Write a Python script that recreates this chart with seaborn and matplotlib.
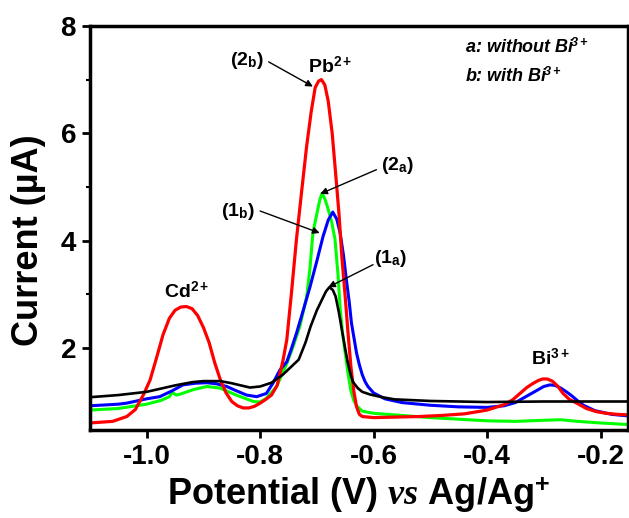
import pandas as pd
import matplotlib
matplotlib.use('Agg')
import matplotlib.pyplot as plt
import seaborn as sns

sns.set_theme(style='ticks')
plt.rcParams['font.family'] = ['Liberation Sans', 'DejaVu Sans']
plt.rcParams['font.weight'] = 'bold'
plt.rcParams['mathtext.fontset'] = 'custom'
plt.rcParams['mathtext.rm'] = 'Liberation Sans:bold'
plt.rcParams['mathtext.bf'] = 'Liberation Sans:bold'
plt.rcParams['mathtext.it'] = 'Liberation Serif:italic:bold'
for key in ['text.color', 'axes.labelcolor', 'xtick.color', 'ytick.color', 'axes.edgecolor']:
    plt.rcParams[key] = 'black'

# (2b) Pb + Cd with Bi3+  (red)
red_x = [-1.10, -1.06, -1.035, -1.02, -1.006, -0.994, -0.983, -0.971, -0.960, -0.950, -0.940,
         -0.930, -0.920, -0.910, -0.900, -0.890, -0.880, -0.870, -0.860, -0.850, -0.840,
         -0.830, -0.820, -0.810, -0.800, -0.790, -0.780, -0.770, -0.760, -0.753, -0.745,
         -0.736, -0.727, -0.718, -0.710, -0.703, -0.697, -0.692, -0.686, -0.680, -0.673,
         -0.667, -0.661, -0.656, -0.650, -0.645, -0.640, -0.635, -0.630, -0.625, -0.62,
         -0.60, -0.56, -0.52, -0.48, -0.44, -0.40, -0.37, -0.355, -0.342, -0.33, -0.32,
         -0.31, -0.302, -0.294, -0.285, -0.275, -0.266, -0.255, -0.242, -0.225, -0.207,
         -0.19, -0.17, -0.15]
red_y = [0.60, 0.63, 0.72, 0.85, 1.12, 1.40, 1.80, 2.25, 2.55, 2.70, 2.76,
         2.77, 2.73, 2.60, 2.38, 2.10, 1.72, 1.40, 1.16, 1.00, 0.92,
         0.88, 0.88, 0.91, 0.97, 1.04, 1.12, 1.30, 1.75, 2.15, 3.00,
         4.02, 4.90, 5.76, 6.40, 6.85, 6.97, 7.00, 6.90, 6.60, 6.00,
         5.26, 4.50, 3.70, 2.95, 2.27, 1.65, 1.20, 0.90, 0.76, 0.72,
         0.70, 0.71, 0.72, 0.74, 0.77, 0.84, 0.94, 1.03, 1.15, 1.26, 1.33,
         1.39, 1.42, 1.42, 1.38, 1.28, 1.15, 1.04, 0.97, 0.87, 0.81,
         0.78, 0.76, 0.75]

# (1b) Pb with Bi3+  (blue)
blue_x = [-1.10, -1.05, -1.035, -1.00, -0.977, -0.955, -0.936, -0.915, -0.894, -0.877, -0.859,
          -0.842, -0.824, -0.806, -0.789, -0.777, -0.765, -0.753, -0.745, -0.736, -0.724,
          -0.712, -0.700, -0.689, -0.680, -0.672, -0.665, -0.659, -0.653, -0.648, -0.643,
          -0.639, -0.634, -0.63, -0.625, -0.62, -0.615, -0.61, -0.60, -0.58, -0.55, -0.50,
          -0.45, -0.40, -0.37, -0.35, -0.33, -0.31, -0.30, -0.289, -0.28, -0.27, -0.26,
          -0.25, -0.24, -0.23, -0.21, -0.18, -0.15]
blue_y = [0.92, 0.95, 0.97, 1.05, 1.09, 1.20, 1.31, 1.34, 1.35, 1.33, 1.28,
          1.20, 1.12, 1.09, 1.15, 1.35, 1.59, 1.74, 1.98, 2.27, 2.70,
          3.14, 3.62, 4.08, 4.38, 4.53, 4.40, 4.14, 3.72, 3.27, 2.86,
          2.46, 2.15, 1.90, 1.68, 1.50, 1.37, 1.28, 1.16, 1.05, 0.98, 0.93,
          0.90, 0.89, 0.92, 0.98, 1.10, 1.22, 1.28, 1.31, 1.30, 1.25, 1.18,
          1.10, 1.01, 0.93, 0.83, 0.76, 0.73]

# (2a) Pb + Cd without Bi3+  (green)
green_x = [-1.10, -1.05, -1.00, -0.975, -0.96, -0.955, -0.948, -0.94, -0.918, -0.894, -0.871,
           -0.842, -0.812, -0.80, -0.789, -0.771, -0.753, -0.742, -0.730, -0.718, -0.712,
           -0.707, -0.700, -0.695, -0.691, -0.686, -0.680, -0.674, -0.668, -0.663, -0.659,
           -0.655, -0.650, -0.645, -0.640, -0.635, -0.630, -0.62, -0.60, -0.55, -0.50,
           -0.45, -0.40, -0.35, -0.30, -0.27, -0.24, -0.20, -0.15]
green_y = [0.84, 0.87, 0.95, 1.02, 1.09, 1.17, 1.12, 1.14, 1.22, 1.28, 1.25,
           1.12, 1.00, 0.99, 1.06, 1.28, 1.71, 2.02, 2.40, 2.95, 3.50,
           4.14, 4.50, 4.75, 4.88, 4.78, 4.58, 4.35, 4.02, 3.40, 2.75,
           2.30, 1.90, 1.52, 1.20, 1.02, 0.92, 0.82, 0.78, 0.74, 0.70,
           0.67, 0.64, 0.63, 0.65, 0.66, 0.63, 0.60, 0.57]

# (1a) Pb without Bi3+  (black)
black_x = [-1.10, -1.05, -1.00, -0.95, -0.92, -0.90, -0.87, -0.85, -0.818, -0.80, -0.78, -0.76,
           -0.745, -0.732, -0.72, -0.711, -0.700, -0.690, -0.684, -0.678, -0.672, -0.667,
           -0.661, -0.655, -0.650, -0.645, -0.640, -0.636, -0.628, -0.62, -0.606, -0.585,
           -0.563, -0.50, -0.40, -0.30, -0.20, -0.15]
black_y = [1.08, 1.12, 1.18, 1.30, 1.36, 1.38, 1.38, 1.34, 1.26, 1.28, 1.35, 1.50,
           1.65, 1.78, 2.10, 2.40, 2.70, 2.92, 3.05, 3.13, 3.08, 2.96,
           2.65, 2.28, 1.98, 1.70, 1.48, 1.36, 1.25, 1.18, 1.13, 1.08,
           1.04, 1.01, 0.99, 1.00, 1.00, 1.00]

series = [
    ('2a', green_x, green_y, '#00FF00', 2.2),
    ('1b', blue_x, blue_y, '#0000FF', 2.2),
    ('2b', red_x, red_y, '#FF0000', 2.3),
    ('1a', black_x, black_y, '#000000', 1.9),
]

fig = plt.figure(figsize=(6.29, 5.18), dpi=100)
ax = fig.add_axes([0.143, 0.170, 0.855, 0.780])

for name, xs, ys, color, lw in series:
    df = pd.DataFrame({'potential': xs, 'current': ys})
    sns.lineplot(data=df, x='potential', y='current', color=color, linewidth=lw,
                 estimator=None, sort=False, ax=ax)

ax.set_xlim(-1.1, -0.152)
ax.set_ylim(0.47, 8.0)
ax.set_xticks([-1.0, -0.8, -0.6, -0.4, -0.2])
ax.set_xticklabels(['-1.0', '-0.8', '-0.6', '-0.4', '-0.2'])
ax.set_yticks([2, 4, 6, 8])
ax.set_yticks([3, 5, 7], minor=True)
ax.tick_params(axis='both', which='major', direction='out', length=6, width=2,
               labelsize=20, pad=4)
ax.tick_params(axis='y', which='minor', direction='out', length=3, width=1.5)
for lab in ax.get_xticklabels() + ax.get_yticklabels():
    lab.set_fontweight('bold')
for sp in ax.spines.values():
    sp.set_linewidth(2.5)
    sp.set_visible(True)

ax.set_xlabel('Potential (V) $\\mathit{vs}$ Ag/Ag$^{\\mathregular{+}}$',
              fontsize=26, fontweight='bold', labelpad=4)
ax.set_ylabel('Current (\u00b5A)', fontsize=26, fontweight='bold')
ax.yaxis.set_label_coords(-0.082, 0.47)

# peak labels
ax.text(-0.93, 3.05, 'Cd$^{\\mathregular{2+}}$', fontsize=14, fontweight='bold',
        ha='center', va='center')
ax.text(-0.677, 7.25, 'Pb$^{\\mathregular{2+}}$', fontsize=14, fontweight='bold',
        ha='center', va='center')
ax.text(-0.289, 1.80, 'Bi$^{\\mathregular{3+}}$', fontsize=14, fontweight='bold',
        ha='center', va='center')

# curve labels with arrows
labels = [
    ('(2$_{\\mathregular{b}}$)', (-0.824, 7.35), (-0.785, 7.33), (-0.707, 6.87)),
    ('(2$_{\\mathregular{a}}$)', (-0.557, 5.39), (-0.595, 5.32), (-0.694, 4.87)),
    ('(1$_{\\mathregular{b}}$)', (-0.840, 4.55), (-0.800, 4.55), (-0.695, 4.14)),
    ('(1$_{\\mathregular{a}}$)', (-0.571, 3.67), (-0.601, 3.55), (-0.680, 3.13)),
]
for txt, pos, start, end in labels:
    ax.text(pos[0], pos[1], txt, fontsize=14, fontweight='bold', ha='center', va='center')
    ax.annotate('', xy=end, xytext=start,
                arrowprops=dict(arrowstyle='-|>', color='black', lw=1.0,
                                mutation_scale=10, shrinkA=0, shrinkB=0))

ax.text(0.697, 0.946, 'a: without Bi$\\!^{\\mathregular{3+}}$', transform=ax.transAxes,
        fontsize=13, fontweight='bold', fontstyle='italic', ha='left', va='center')
ax.text(0.697, 0.876, 'b: with Bi$\\!^{\\mathregular{3+}}$', transform=ax.transAxes,
        fontsize=13, fontweight='bold', fontstyle='italic', ha='left', va='center')

fig.savefig('out.png', dpi=100)
